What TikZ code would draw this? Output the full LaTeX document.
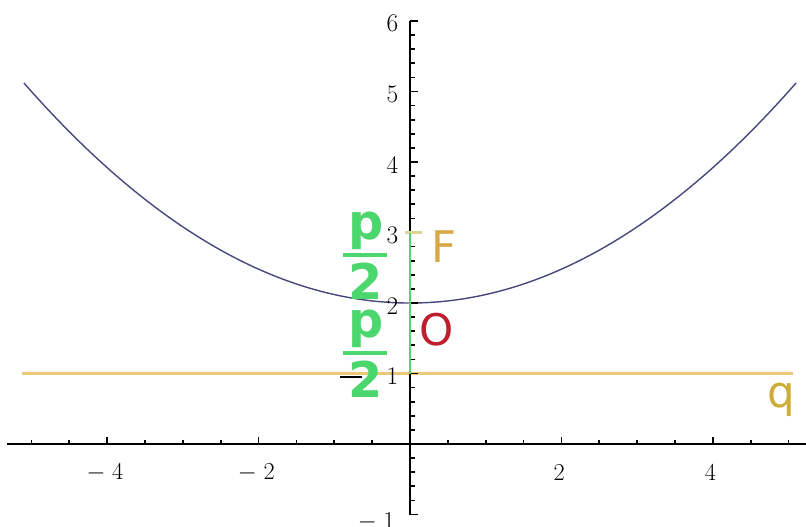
\documentclass[tikz,border=0pt]{standalone}
\usepackage{fontspec}
\newfontfamily\labfont{DejaVu Sans}
\definecolor{pgreen}{RGB}{75,215,110}
\definecolor{fcol}{RGB}{214,168,70}
\definecolor{ocol}{RGB}{190,30,45}
\definecolor{qcol}{RGB}{205,172,55}
\definecolor{dirline}{RGB}{234,200,120}
\definecolor{parcol}{RGB}{72,72,125}
\definecolor{ftick}{RGB}{215,215,150}
\tikzset{
  axisline/.style={line width=1.4pt, black},
  ticklab/.style={font=\fontsize{18}{21}\selectfont, inner sep=0pt},
  greenlab/.style={font=\labfont\bfseries\fontsize{35}{40}\selectfont, text=pgreen, inner sep=0pt},
  ptlab/.style={font=\labfont\fontsize{31}{36}\selectfont, inner sep=0pt},
}
\begin{document}
\begin{tikzpicture}[x=1.8925cm,y=1.7625cm]
\useasboundingbox (-5.416,-1.163) rectangle (5.231,6.298);
% directrix
\draw[draw=dirline, line width=1.6pt] (-5.12,1) -- (5.06,1);
% parabola
\draw[parcol, line width=1pt, domain=-5.1:5.1, samples=120, smooth] plot (\x,{0.12*\x*\x+2});
% axes
\draw[axisline] (-5.32,0) -- (5.231,0);
\draw[axisline] (0,-1) -- (0,6);
\foreach \t in {-5,-4.5,...,5.01} {
  \ifdim \t pt=0pt \else \draw[line width=1.2pt] (\t,0) -- ++(0,0.1cm); \fi
}
\foreach \t in {-4,-2,2,4} { \draw[line width=1.2pt] (\t,0) -- ++(0,0.175cm); }
\foreach \t in {-1,-0.8,...,6.01} {
  \ifdim \t pt=0pt \else \draw[line width=1.2pt] (0,\t) -- ++(0.125cm,0); \fi
}
\foreach \t in {-1,1,2,3,4,5,6} { \draw[line width=1.2pt] (0,\t) -- ++(0.2cm,0); }
% tick labels
\foreach \t/\l in {-4/$-\;4$,-2/$-\;2$,2/$2$,4/$4$} {
  \node[ticklab] (xl\t) at (\t-0.03,-0.4) {\l};
}
\foreach \t in {1,2,3,4,5,6} {
  \node[ticklab, anchor=east] (yl\t) at (-0.15,\t-0.04) {\t};
}
\node[ticklab, anchor=east] (ylm1) at (-0.2,-1.1) {$-\;1$};
% focus tick and green segment
\draw[ftick, line width=1.6pt] (-0.066,3) -- (0.16,3);
\draw[pgreen, line width=1.6pt] (0,1) -- (0,3);
% black dash
\draw[line width=2pt] (-0.925,0.95) -- (-0.634,0.95);
% p/2 labels
\node[greenlab] (p1) at (-0.581,3.02) {p};
\draw[pgreen, line width=2.2pt] (-0.885,2.681) -- (-0.304,2.681);
\node[greenlab] (d1) at (-0.581,2.312) {2};
\node[greenlab] (p2) at (-0.581,1.63) {p};
\draw[pgreen, line width=2.2pt] (-0.885,1.291) -- (-0.304,1.291);
\node[greenlab] (d2) at (-0.581,0.922) {2};
% letters
\node[ptlab, text=fcol] (F) at (0.449,2.794) {F};
\node[ptlab, text=ocol] (O) at (0.357,1.617) {O};
\node[ptlab, text=qcol] (q) at (4.9,0.62) {q};
\end{tikzpicture}
\end{document}
